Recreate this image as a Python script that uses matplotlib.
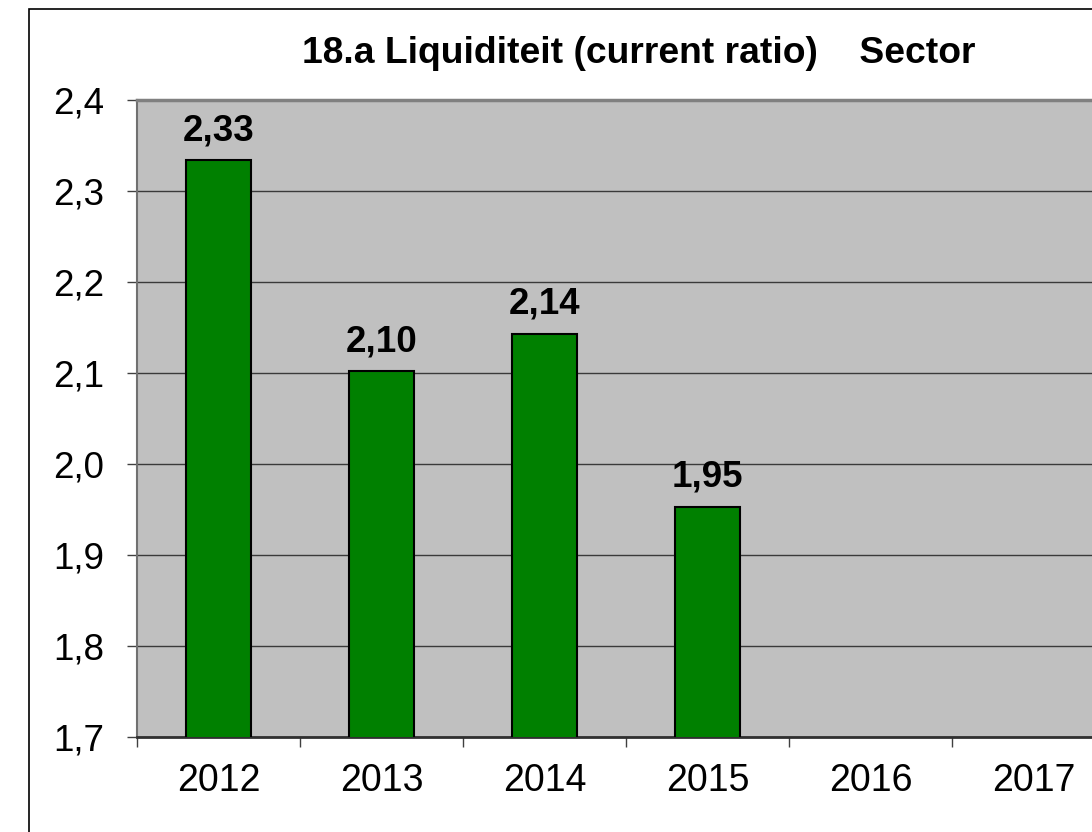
import numpy as np
import matplotlib
matplotlib.use("Agg")
import matplotlib.pyplot as plt
from matplotlib.ticker import FuncFormatter, MultipleLocator, FixedLocator
from matplotlib.patches import Rectangle

# chart data
years = ['2012', '2013', '2014', '2015', '2016', '2017']
ratios = [2.334, 2.102, 2.143, 1.953]
title = "18.a Liquiditeit (current ratio)    Sector"

plt.rcParams['font.family'] = ['Liberation Sans', 'DejaVu Sans']

fig = plt.figure(figsize=(10.92, 8.32), dpi=100)

# outer chart border (runs off the right and bottom of the picture)
fig.patches.append(Rectangle((29 / 1092, -0.05), 1.2, (832 - 9) / 832 + 0.05,
                             transform=fig.transFigure, fill=False,
                             edgecolor='black', linewidth=1.2))

ax = fig.add_axes([137 / 1092, (832 - 737) / 832, 978 / 1092, 637 / 832])
ax.set_facecolor('#C0C0C0')

x = np.arange(len(ratios))
bars = ax.bar(x, ratios, width=0.4, color='#008000', edgecolor='black',
              linewidth=1.5, zorder=3)
for xi, v in zip(x, ratios):
    ax.text(xi, v + 0.022, f"{v:.2f}".replace('.', ','), ha='center',
            va='baseline', fontsize=26.5, fontweight='bold', zorder=4)

ax.set_ylim(1.7, 2.4)
ax.set_xlim(-0.5, len(years) - 0.5)
ax.yaxis.set_major_locator(MultipleLocator(0.1))
ax.yaxis.set_major_formatter(FuncFormatter(lambda v, p: f"{v:.1f}".replace('.', ',')))
ax.grid(axis='y', color='#3a3a3a', linewidth=1.0, zorder=1)
ax.set_axisbelow(True)

ax.set_xticks(np.arange(len(years)))
ax.set_xticklabels(years)
ax.xaxis.set_minor_locator(FixedLocator(np.arange(len(years) + 1) - 0.5))
ax.tick_params(axis='x', which='major', length=0, pad=19, labelsize=27)
ax.tick_params(axis='x', which='minor', length=7.5, width=1, color='#404040')
ax.tick_params(axis='y', length=7.5, width=1, color='#404040', pad=16, labelsize=26.5)

ax.spines['left'].set_color('#707070')
ax.spines['left'].set_linewidth(1.5)
ax.spines['top'].set_color('#808080')
ax.spines['top'].set_linewidth(2.5)
ax.spines['bottom'].set_color('#303030')
ax.spines['bottom'].set_linewidth(2)
ax.spines['right'].set_visible(False)

fig.text(302 / 1092, (832 - 63) / 832, title, ha='left', va='baseline',
         fontsize=26.8, fontweight='bold')

fig.savefig('out.png', dpi=100)
